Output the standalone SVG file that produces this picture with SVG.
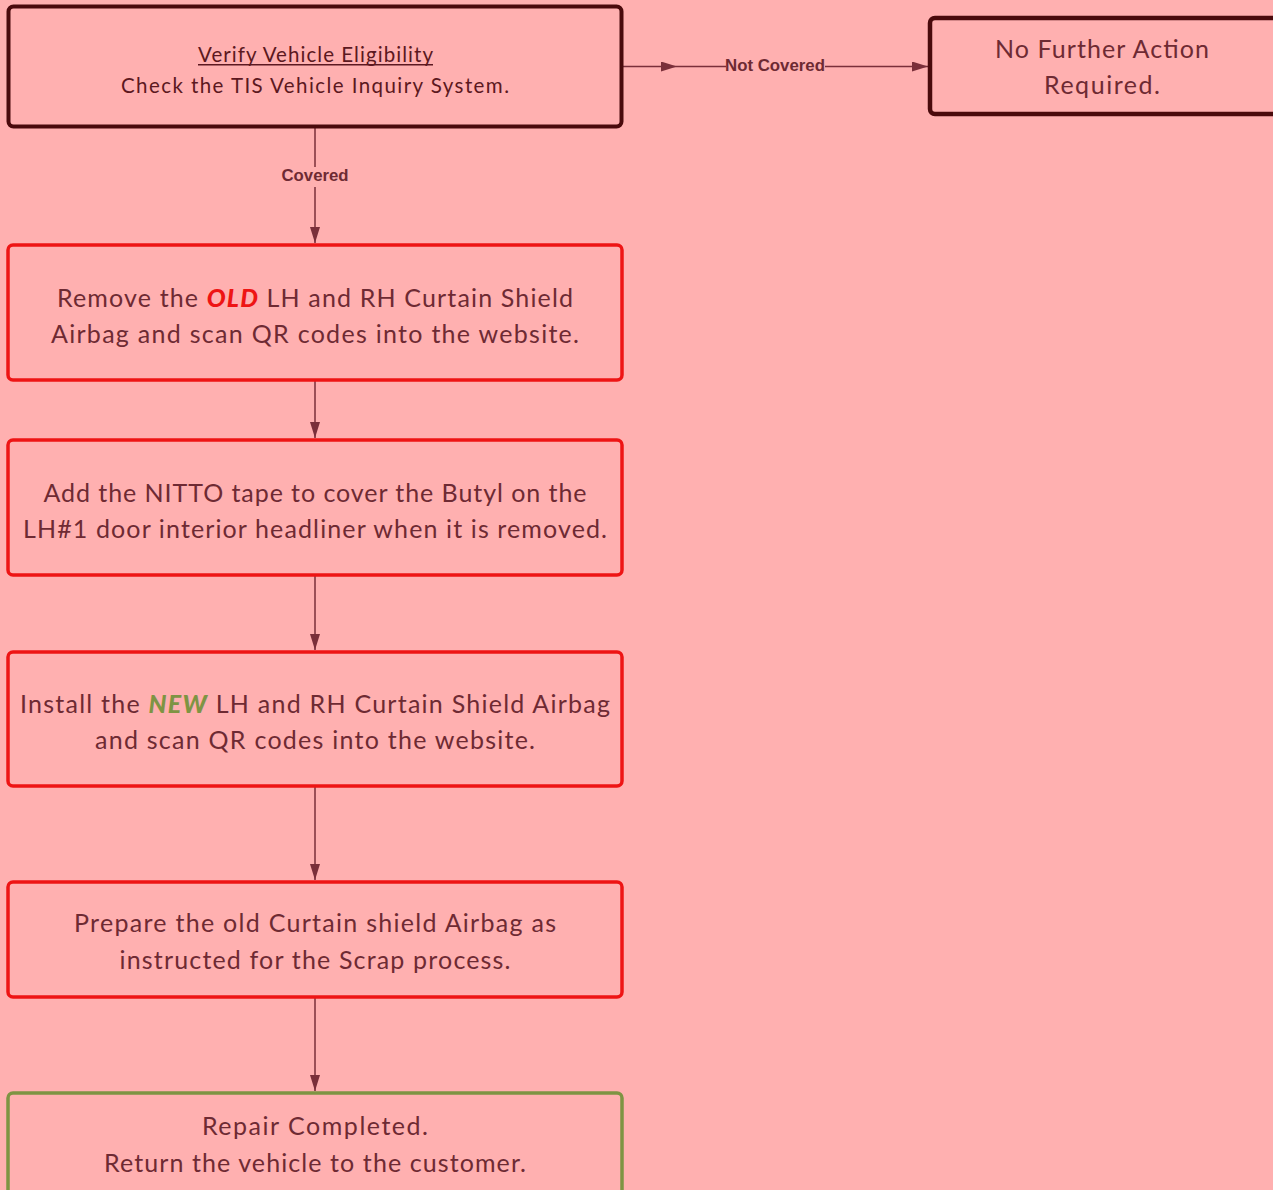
<svg xmlns="http://www.w3.org/2000/svg" width="1273" height="1190" viewBox="0 0 1273 1190">
<defs>
<marker id="arr" viewBox="0 0 16 10" refX="16" refY="5" markerWidth="16" markerHeight="10" markerUnits="userSpaceOnUse" orient="auto">
<path d="M0,0 L16,5 L0,10 z" fill="#7a2f3a"/>
</marker>
<marker id="mid" viewBox="0 0 16 10" refX="8" refY="5" markerWidth="16" markerHeight="10" markerUnits="userSpaceOnUse" orient="auto">
<path d="M0,0 L16,5 L0,10 z" fill="#7a2f3a"/>
</marker>
</defs>
<style>
.t{font-family:Lato,"Liberation Sans",sans-serif;fill:#6e2a33;text-anchor:middle}
.big{font-size:25px}
.small{font-size:20.5px;fill:#5c1820}
.dark{fill:none;stroke:#4a0a0c;stroke-width:4}
.red{fill:none;stroke:#ee1414;stroke-width:3.5}
.green{fill:none;stroke:#7e9443;stroke-width:3.5}
.ln{stroke:#7a2f3a;stroke-width:1.5;fill:none}
.lbl{font-family:"Liberation Sans",Arial,sans-serif;font-weight:bold;font-size:16.8px;fill:#6e2a33;text-anchor:middle}
</style>
<rect width="1273" height="1190" fill="#ffb0b0"/>
<g id="connectors">
<path class="ln" d="M315,128 V243" marker-end="url(#arr)"/>
<rect x="280" y="167" width="70" height="20" fill="#ffb0b0"/>
<text class="lbl" x="315" y="181" textLength="67" lengthAdjust="spacingAndGlyphs">Covered</text>
<path class="ln" d="M623,66.5 L669,66.5 L928,66.5" stroke-width="2" marker-mid="url(#mid)" marker-end="url(#arr)"/>
<rect x="726" y="56" width="99" height="18" fill="#ffb0b0"/>
<text class="lbl" x="775" y="71" textLength="100" lengthAdjust="spacingAndGlyphs">Not Covered</text>
<path class="ln" d="M315,381 V438" marker-end="url(#arr)"/>
<path class="ln" d="M315,576 V650" marker-end="url(#arr)"/>
<path class="ln" d="M315,787 V880" marker-end="url(#arr)"/>
<path class="ln" d="M315,998 V1091" marker-end="url(#arr)"/>
</g>
<g id="node-verify">
<rect class="dark" x="8.5" y="6.5" width="613" height="120" rx="5"/>
<text class="t small" x="315.5" y="61.5" textLength="235" lengthAdjust="spacing">Verify Vehicle Eligibility</text>
<line x1="198" y1="64.8" x2="433" y2="64.8" stroke="#5c1820" stroke-width="1.5"/>
<text class="t small" x="315" y="93" textLength="388" lengthAdjust="spacing">Check the TIS Vehicle Inquiry System.</text>
</g>
<g id="node-nofurther">
<rect x="930" y="18" width="350" height="96" rx="5" fill="none" stroke="#4a0a0c" stroke-width="4.5"/>
<text class="t big" x="1102" y="58" textLength="214" lengthAdjust="spacing">No Further Action</text>
<text class="t big" x="1102" y="94" textLength="116" lengthAdjust="spacing">Required.</text>
</g>
<g id="node-remove">
<rect class="red" x="8" y="245" width="614" height="135" rx="5"/>
<text class="t big" x="315" y="307" textLength="516" lengthAdjust="spacing">Remove the <tspan font-weight="900" font-style="italic" fill="#ee1414">OLD</tspan> LH and RH Curtain Shield</text>
<text class="t big" x="315" y="343" textLength="528" lengthAdjust="spacing">Airbag and scan QR codes into the website.</text>
</g>
<g id="node-nitto">
<rect class="red" x="8" y="440" width="614" height="135" rx="5"/>
<text class="t big" x="315" y="502" textLength="543" lengthAdjust="spacing">Add the NITTO tape to cover the Butyl on the</text>
<text class="t big" x="315" y="538" textLength="584" lengthAdjust="spacing">LH#1 door interior headliner when it is removed.</text>
</g>
<g id="node-install">
<rect class="red" x="8" y="652" width="614" height="134" rx="5"/>
<text class="t big" x="315" y="713" textLength="590" lengthAdjust="spacing">Install the <tspan font-weight="900" font-style="italic" fill="#7e9443">NEW</tspan> LH and RH Curtain Shield Airbag</text>
<text class="t big" x="315" y="749" textLength="440" lengthAdjust="spacing">and scan QR codes into the website.</text>
</g>
<g id="node-prepare">
<rect class="red" x="8" y="882" width="614" height="115" rx="5"/>
<text class="t big" x="315" y="932" textLength="482" lengthAdjust="spacing">Prepare the old Curtain shield Airbag as</text>
<text class="t big" x="315" y="969" textLength="391" lengthAdjust="spacing">instructed for the Scrap process.</text>
</g>
<g id="node-complete">
<rect class="green" x="8" y="1093" width="614" height="110" rx="5"/>
<text class="t big" x="315" y="1135" textLength="226" lengthAdjust="spacing">Repair Completed.</text>
<text class="t big" x="315" y="1172" textLength="422" lengthAdjust="spacing">Return the vehicle to the customer.</text>
</g>
</svg>
